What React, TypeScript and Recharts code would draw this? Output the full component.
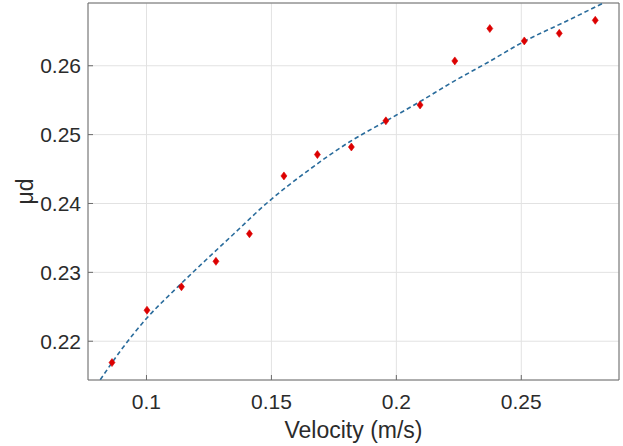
import React from 'react'
import {
  ScatterChart,
  Scatter,
  XAxis,
  YAxis,
  CartesianGrid,
} from 'recharts'

// measured friction points
const velocity = [0.0862, 0.1002, 0.114, 0.1278, 0.1412, 0.155, 0.1684, 0.182, 0.1958, 0.2095, 0.2234, 0.2374, 0.2512, 0.2652, 0.2796]
const muD = [0.2169, 0.2245, 0.2279, 0.2316, 0.2356, 0.244, 0.2471, 0.2482, 0.252, 0.2543, 0.2607, 0.2654, 0.2636, 0.2647, 0.2666]

// fitted curve
const fitVelocity = [0.0815, 0.09, 0.1, 0.11, 0.12, 0.135, 0.148, 0.164, 0.1815, 0.1955, 0.2095, 0.2228, 0.2362, 0.2515, 0.2682, 0.2828]
const fitMuD = [0.2144, 0.2188, 0.2233, 0.227, 0.2305, 0.2356, 0.24, 0.2446, 0.249, 0.2519, 0.2548, 0.2577, 0.2604, 0.2636, 0.2665, 0.2691]

const xTicks = [0.1, 0.15, 0.2, 0.25]
const yTicks = [0.22, 0.23, 0.24, 0.25, 0.26]

const X_DOMAIN: [number, number] = [0.0766, 0.2891]
const Y_DOMAIN: [number, number] = [0.21437, 0.26911]

const points = velocity.map((v, i) => ({ v, mu: muD[i] }))
const fit = fitVelocity.map((v, i) => ({ v, mu: fitMuD[i] }))

const FONT = '"Liberation Sans", Arial, Helvetica, sans-serif'
const AXIS = '#6b6b6b'
const TEXT = '#2b2b2b'

const Diamond = (props: any) => {
  const { cx, cy } = props
  if (cx == null || cy == null) return <g />
  return (
    <polygon
      points={`${cx},${cy - 4} ${cx + 3},${cy} ${cx},${cy + 4} ${cx - 3},${cy}`}
      fill="#dc0000"
      stroke="#dc0000"
      strokeWidth={0.6}
    />
  )
}

const NoDot = () => <g />

const XLabel = (props: any) => {
  const { viewBox } = props
  return (
    <text
      x={viewBox.x + viewBox.width / 2}
      y={viewBox.y + 58}
      textAnchor="middle"
      fontSize={23}
      fontFamily={FONT}
      fill={TEXT}
    >
      Velocity (m/s)
    </text>
  )
}

const YLabel = (props: any) => {
  const { viewBox } = props
  const x = 25
  const y = viewBox.y + viewBox.height / 2
  return (
    <text
      x={x}
      y={y}
      transform={`rotate(-90, ${x}, ${y})`}
      textAnchor="middle"
      dominantBaseline="central"
      fontSize={23}
      fontFamily={FONT}
      fill={TEXT}
    >
      μd
    </text>
  )
}

const tickStyle = { fill: TEXT, fontSize: 21, fontFamily: FONT }

export default function App() {
  return (
    <div style={{ position: 'absolute', left: 0, top: 0, background: '#fff' }}>
      <ScatterChart
        width={623}
        height={446}
        margin={{ top: 0, right: 0, bottom: 0, left: 0 }}
      >
        <CartesianGrid stroke="#e2e2e2" strokeWidth={1} ticks={undefined} />
        <XAxis
          type="number"
          dataKey="v"
          domain={X_DOMAIN}
          ticks={xTicks}
          interval={0}
          allowDataOverflow
          height={66}
          tickSize={-5}
          tickMargin={19}
          tick={tickStyle}
          axisLine={{ stroke: AXIS }}
          tickLine={{ stroke: AXIS }}
          label={<XLabel />}
        />
        <XAxis
          xAxisId="top"
          orientation="top"
          type="number"
          dataKey="v"
          domain={X_DOMAIN}
          ticks={xTicks}
          interval={0}
          allowDataOverflow
          height={3}
          tickSize={-5}
          tick={false}
          axisLine={{ stroke: AXIS }}
          tickLine={{ stroke: AXIS }}
        />
        <YAxis
          type="number"
          dataKey="mu"
          domain={Y_DOMAIN}
          ticks={yTicks}
          interval={0}
          allowDataOverflow
          width={88}
          tickSize={-5}
          tickMargin={12}
          tick={tickStyle}
          axisLine={{ stroke: AXIS }}
          tickLine={{ stroke: AXIS }}
          label={<YLabel />}
        />
        <YAxis
          yAxisId="right"
          orientation="right"
          type="number"
          dataKey="mu"
          domain={Y_DOMAIN}
          ticks={yTicks}
          interval={0}
          allowDataOverflow
          width={4}
          tickSize={-5}
          tick={false}
          axisLine={{ stroke: AXIS }}
          tickLine={{ stroke: AXIS }}
        />
        <Scatter
          data={fit}
          shape={<NoDot />}
          line={{ stroke: '#2a6c9c', strokeWidth: 1.6, strokeDasharray: '4.5 3' }}
          lineJointType="monotoneX"
          isAnimationActive={false}
        />
        <Scatter data={points} shape={<Diamond />} isAnimationActive={false} />
      </ScatterChart>
    </div>
  )
}
